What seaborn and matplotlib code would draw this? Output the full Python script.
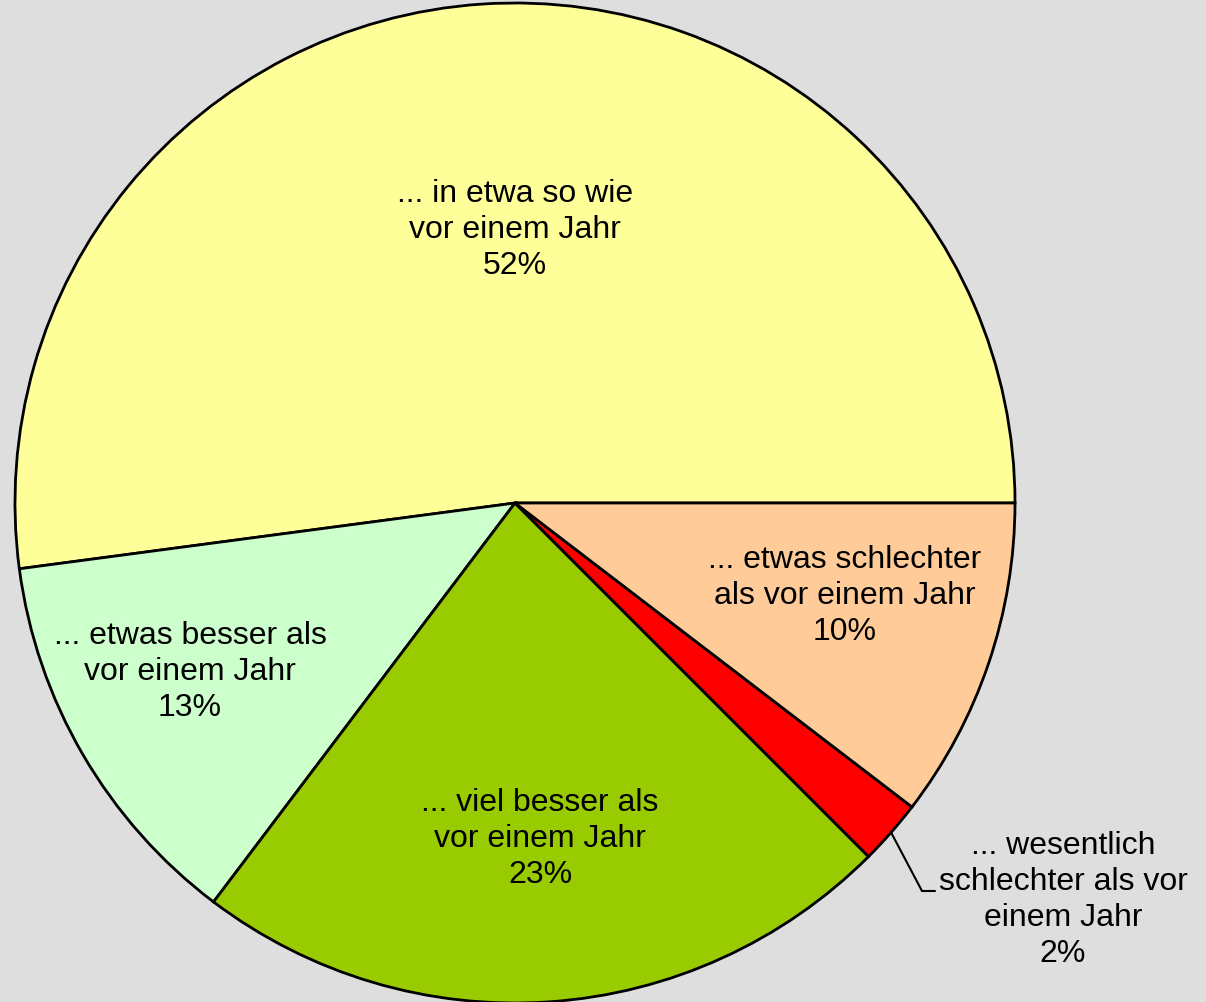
import numpy as np
import matplotlib
matplotlib.use("Agg")
import matplotlib.pyplot as plt
import seaborn as sns

# slices, counterclockwise from 3 o'clock
labels = [
    "... in etwa so wie\nvor einem Jahr",
    "... etwas besser als\nvor einem Jahr",
    "... viel besser als\nvor einem Jahr",
    "... wesentlich\nschlechter als vor\neinem Jahr",
    "... etwas schlechter\nals vor einem Jahr",
]
shares = [52.1, 12.6, 22.8, 2.1, 10.4]
colors = ["#FFFF99", "#CCFFCC", "#99CC00", "#FF0000", "#FFCC99"]

# label anchor positions (pie radius = 1)
label_pos = [(0.0, 0.546), (-0.65, -0.338), (0.05, -0.672), (1.096, -0.794), (0.66, -0.186)]

sns.set_theme(style="white")
plt.rcParams["font.family"] = ["Liberation Sans", "DejaVu Sans"]

bg = "#DEDEDE"
fig = plt.figure(figsize=(12.06, 10.02), dpi=100, facecolor=bg)
ax = fig.add_axes([0, 0, 1, 1])
ax.set_facecolor(bg)

wedges, _ = ax.pie(
    shares,
    colors=colors,
    startangle=0,
    counterclock=True,
    wedgeprops=dict(edgecolor="black", linewidth=2),
    radius=1.0,
    center=(0, 0),
)

for lab, val, (x, y) in zip(labels, shares, label_pos):
    ax.text(x, y, f"{lab}\n{val:.0f}%", ha="center", va="center",
            fontsize=23, color="black", linespacing=1.25)

# leader line for the small red slice
w = wedges[3]
mid = np.deg2rad((w.theta1 + w.theta2) / 2)
x0, y0 = np.cos(mid), np.sin(mid)
ax.plot([x0, 0.814, 0.84], [y0, -0.776, -0.776], color="black", lw=1.5,
        solid_joinstyle="miter")

ax.set_xlim(-515 / 500, (1206 - 515) / 500)
ax.set_ylim(-(1002 - 503) / 500, 503 / 500)
ax.set_aspect("auto")
ax.axis("off")

fig.savefig("out.png", dpi=100, facecolor=bg)
